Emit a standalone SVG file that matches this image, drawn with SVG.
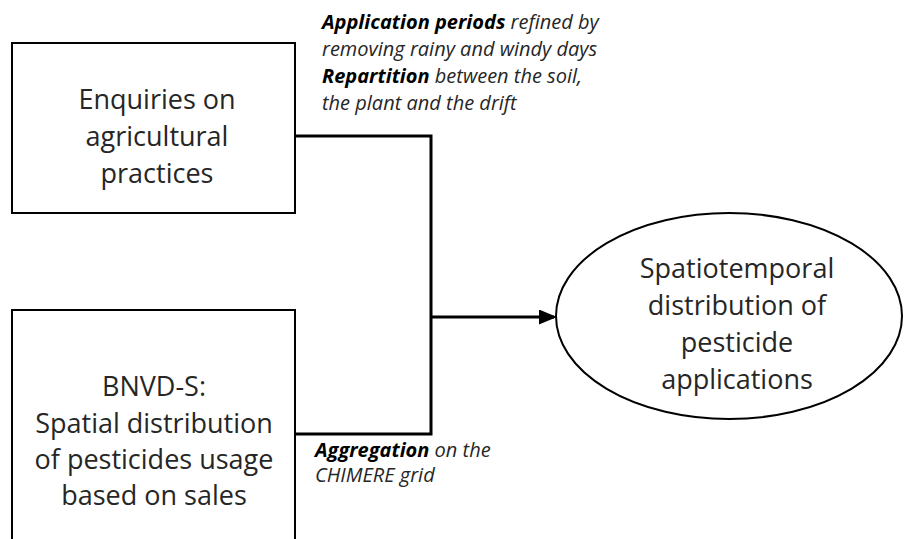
<svg xmlns="http://www.w3.org/2000/svg" width="904" height="539" viewBox="0 0 904 539">
<style>
.box{fill:#fff;stroke:#000;stroke-width:2}
.main{font-family:"Open Sans","Liberation Sans",sans-serif;font-size:27px;fill:#262626;text-anchor:middle}
.note{font-family:"Open Sans","Liberation Sans",sans-serif;font-size:20px;font-style:italic;fill:#262626}
.note .b{font-weight:bold;fill:#000}
.conn{fill:none;stroke:#000;stroke-width:3}
</style>
<defs>
<marker id="arrow" markerWidth="6" markerHeight="5" refX="5" refY="2.5" orient="auto" markerUnits="strokeWidth">
<path d="M0,0 L6,2.5 L0,5 Z" fill="#000"/>
</marker>
</defs>
<rect width="904" height="539" fill="#fff"/>
<g id="connectors">
<polyline class="conn" points="295,136 431,136 431,434 295,434"/>
<line class="conn" x1="431" y1="317" x2="554" y2="317" marker-end="url(#arrow)"/>
</g>
<g id="enquiries">
<rect class="box" x="12" y="43" width="283" height="170"/>
<text class="main" x="157" y="109">Enquiries on</text>
<text class="main" x="157" y="146">agricultural</text>
<text class="main" x="157" y="183">practices</text>
</g>
<g id="bnvd">
<rect class="box" x="12" y="310" width="283" height="240"/>
<text class="main" x="154" y="396">BNVD-S:</text>
<text class="main" x="154" y="433">Spatial distribution</text>
<text class="main" x="154" y="469">of pesticides usage</text>
<text class="main" x="154" y="505">based on sales</text>
</g>
<g id="result">
<ellipse class="box" cx="729" cy="316" rx="173" ry="103"/>
<text class="main" x="737" y="278">Spatiotemporal</text>
<text class="main" x="737" y="315">distribution of</text>
<text class="main" x="737" y="352">pesticide</text>
<text class="main" x="737" y="389">applications</text>
</g>
<g id="note-top">
<text class="note" x="322" y="29"><tspan class="b">Application periods</tspan> refined by</text>
<text class="note" x="322" y="56">removing rainy and windy days</text>
<text class="note" x="322" y="83"><tspan class="b">Repartition</tspan> between the soil,</text>
<text class="note" x="322" y="110">the plant and the drift</text>
</g>
<g id="note-bottom">
<text class="note" x="315" y="457"><tspan class="b">Aggregation</tspan> on the</text>
<text class="note" x="315" y="482">CHIMERE grid</text>
</g>
</svg>
